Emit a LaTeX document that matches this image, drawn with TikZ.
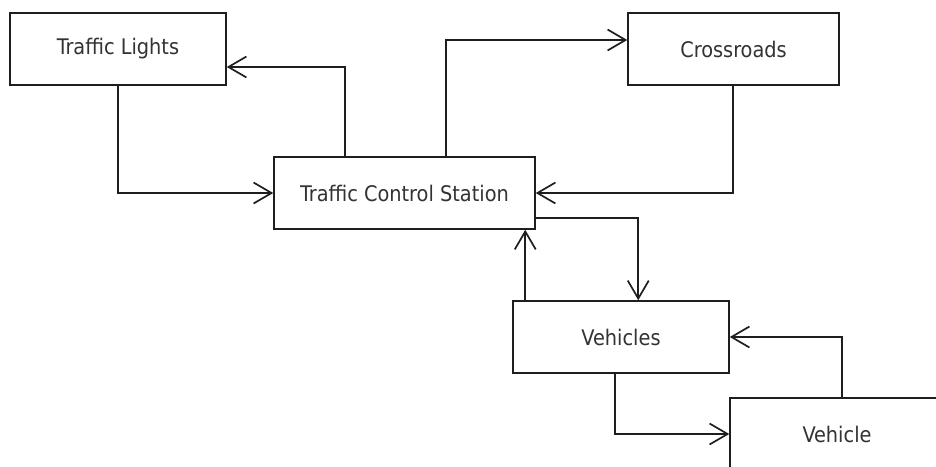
\documentclass[tikz,border=0pt]{standalone}
\usepackage{fontspec}
\setmainfont{DejaVu Sans Condensed}
\usetikzlibrary{arrows.meta,calc}
\definecolor{linec}{HTML}{1E1E1E}
\definecolor{textc}{HTML}{333333}
\tikzset{
  box/.style={draw=linec, line width=1.5pt, fill=white, minimum height=72pt, inner sep=0pt, text=textc, font=\fontsize{21.5}{25}\selectfont},
  arr/.style={draw=linec, line width=1.7pt, -{Straight Barb[length=18pt,width=21pt,line width=1.7pt]}}
}
\begin{document}
\begin{tikzpicture}[x=1pt,y=-1pt]
\useasboundingbox (0,0) rectangle (936,466);
\node[box, minimum width=216pt] (TL) at (118,49) {Traffic Lights};
\node[box, minimum width=261pt] (TCS) at (404.5,193) {Traffic Control Station};
\node[box, minimum width=211pt] (CR) at (733.5,49) {Crossroads};
\node[box, minimum width=216pt] (VS) at (621,337) {Vehicles};
\node[box, minimum width=214pt] (V) at (837,434) {Vehicle};
% connectors
\draw[arr] ($(TCS.north west)+(72,0)$) |- ([yshift=-18pt]TL.east);
\draw[arr] (TL.south) |- (TCS.west);
\draw[arr] ($(TCS.north west)+(173,0)$) |- ([yshift=9pt]CR.west);
\draw[arr] ($(CR.south)+(-0.5,0)$) |- (TCS.east);
\draw[arr] ([yshift=12pt]TCS.south east) -| ($(VS.north west)+(126,0)$);
\draw[arr] ($(VS.north west)+(13,0)$) coordinate (vs1) -- (vs1 |- TCS.south);
\draw[arr] ($(VS.south west)+(103,0)$) |- (V.west);
\draw[arr] ($(V.north west)+(113,0)$) |- (VS.east);
\end{tikzpicture}
\end{document}
